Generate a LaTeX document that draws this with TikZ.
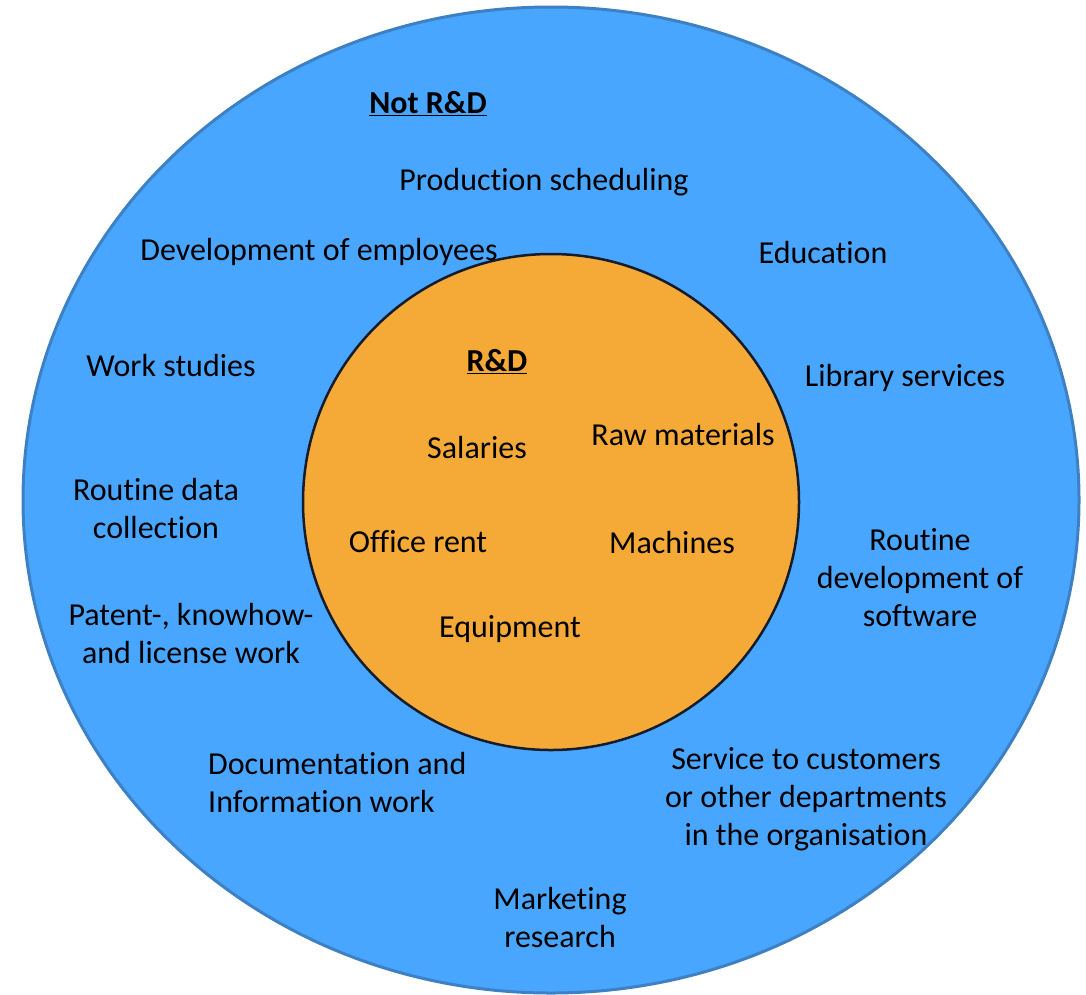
\documentclass[tikz,border=0pt]{standalone}
\usepackage{fontspec}
\setmainfont{Carlito}[Ligatures=NoCommon]
\begin{document}
\definecolor{outerfill}{RGB}{72,166,255}
\definecolor{outerline}{RGB}{62,128,196}
\definecolor{innerfill}{RGB}{245,169,54}
\definecolor{innerline}{RGB}{20,28,45}
\begin{tikzpicture}[x=1pt,y=-1pt,
  lbl/.style={inner sep=0pt,align=center,font=\fontsize{32}{38}\selectfont},
  head/.style={lbl,font=\fontsize{32}{38}\selectfont\bfseries}]
\useasboundingbox (0,0) rectangle (1086,994);
% outer ring: activities that are not R&D
\draw[fill=outerfill,draw=outerline,line width=3pt] (551,500) ellipse [x radius=528,y radius=493];
% inner disc: R&D costs
\draw[fill=innerfill,draw=innerline,line width=2.5pt] (551,502) circle [radius=248];

\node[head] (notrd) at (428,104) {\underline{Not R\&D}};
\node[lbl] (prod) at (544,182) {Production scheduling};
\node[lbl] (devemp) at (319,252) {Development of employees};
\node[lbl] (edu) at (823,252) {Education};
\node[lbl] (work) at (171,365) {Work studies};
\node[lbl] (lib) at (905,378) {Library services};
\node[lbl] (routdata) at (156,508) {Routine data\\collection};
\node[lbl] (patent) at (191,633) {Patent-, knowhow-\\and license work};
\node[lbl] (software) at (920,578) {Routine\\development of\\software};
\node[lbl,align=left,anchor=west] (doc) at (208,782) {Documentation and\\Information work};
\node[lbl] (service) at (806,799) {Service to customers\\or other departments\\in the organisation};
\node[lbl] (market) at (560,917) {Marketing\\research};

\node[head] (rd) at (497,362) {\underline{R\&D}};
\node[lbl] (sal) at (477,447) {Salaries};
\node[lbl] (raw) at (683,434) {Raw materials};
\node[lbl] (office) at (418,542) {Office rent};
\node[lbl] (mach) at (672,542) {Machines};
\node[lbl] (equip) at (510,629) {Equipment};
\end{tikzpicture}
\end{document}
